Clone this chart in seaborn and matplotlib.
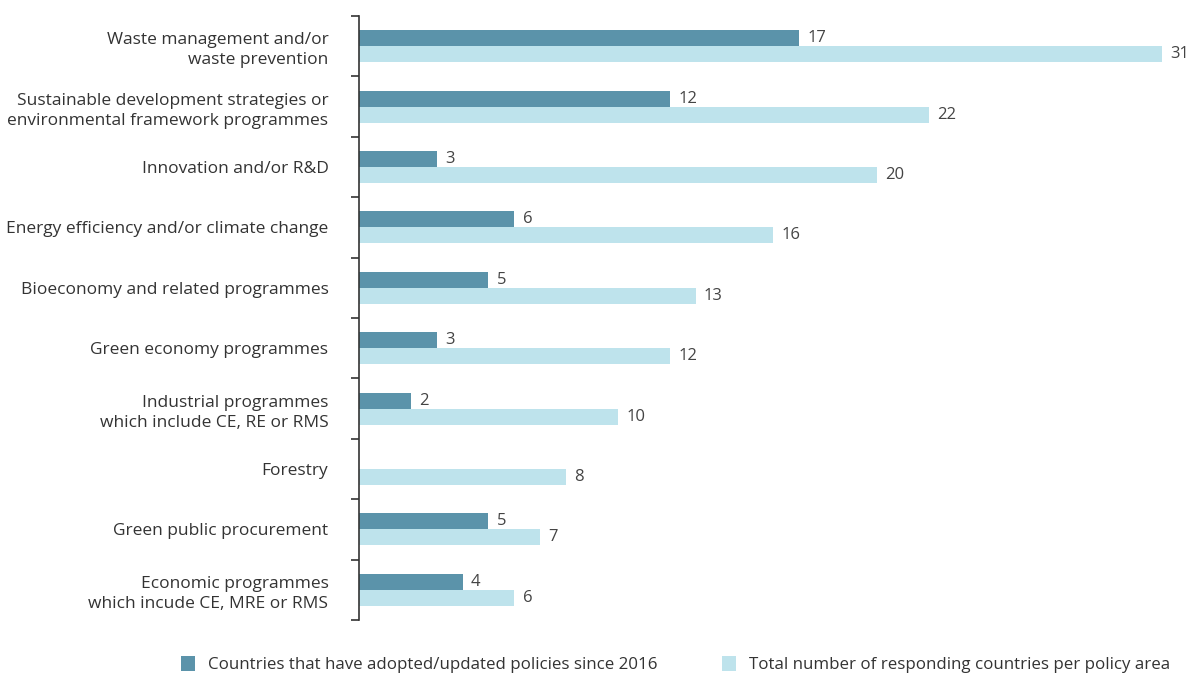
import matplotlib
matplotlib.use("Agg")
import matplotlib.pyplot as plt
import seaborn as sns
import pandas as pd
import numpy as np
from matplotlib.patches import Patch

categories = [
    "Waste management and/or\nwaste prevention",
    "Sustainable development strategies or\nenvironmental framework programmes",
    "Innovation and/or R&D",
    "Energy efficiency and/or climate change",
    "Bioeconomy and related programmes",
    "Green economy programmes",
    "Industrial programmes\nwhich include CE, RE or RMS",
    "Forestry",
    "Green public procurement",
    "Economic programmes\nwhich incude CE, MRE or RMS",
]
adopted = [17, 12, 3, 6, 5, 3, 2, 0, 5, 4]
total = [31, 22, 20, 16, 13, 12, 10, 8, 7, 6]
series_names = ["Countries that have adopted/updated policies since 2016",
                "Total number of responding countries per policy area"]
colors = ["#5b93aa", "#bee3ec"]

df = pd.DataFrame({
    "category": categories * 2,
    "value": adopted + total,
    "series": [series_names[0]] * len(categories) + [series_names[1]] * len(categories),
})

sns.set_theme(style="white")
plt.rcParams['font.family'] = ['Open Sans', 'DejaVu Sans']
text_color = "#333333"

fig = plt.figure(figsize=(11.9, 6.73), dpi=100)
ax = fig.add_axes([0.3017, 0.0788, 0.6963, 0.8975])

sns.barplot(data=df, y="category", x="value", hue="series", order=categories,
            hue_order=series_names, palette=colors, width=0.53, orient="h",
            ax=ax, legend=False, saturation=1, linewidth=0)

for cont in ax.containers:
    labels = [("%d" % v) if v > 0 else "" for v in cont.datavalues]
    ax.bar_label(cont, labels=labels, padding=6, fontsize=12, color="#444444")

ax.set_xlim(0, 32)
ax.set_ylim(9.5, -0.5)
ax.set_xlabel("")
ax.set_ylabel("")
ax.set_xticks([])
for s in ["top", "right", "bottom"]:
    ax.spines[s].set_visible(False)
ax.spines["left"].set_color("#333333")
ax.spines["left"].set_linewidth(1.2)

ax.set_yticks(np.arange(len(categories)))
ax.set_yticklabels(categories, fontsize=12.5, color=text_color, linespacing=1.35)
ax.set_yticks(np.arange(-0.5, len(categories), 1.0), minor=True)
ax.tick_params(axis="y", which="major", length=0, pad=22)
ax.tick_params(axis="y", which="minor", length=6, width=1.2, color="#333333", left=True)

handles = [Patch(facecolor=c, edgecolor="none") for c in colors]
fig.legend(handles, series_names, loc="center", bbox_to_anchor=(0.568, 0.013),
           ncol=2, frameon=False, fontsize=12.2, handlelength=0.8, handleheight=1.0,
           handletextpad=0.8, columnspacing=3.8, labelcolor=text_color)

fig.savefig("out.png", dpi=100)
